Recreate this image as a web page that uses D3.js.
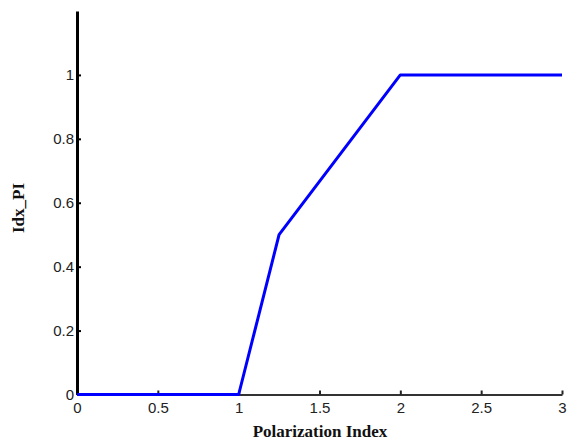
<!DOCTYPE html>
<html><head><meta charset="utf-8">
<script src="https://cdn.jsdelivr.net/npm/d3@7/dist/d3.min.js"></script>
<style>body{margin:0;background:#fff}</style>
</head><body>
<svg id="chart" width="569" height="441"></svg>
<script>
const xValues = [0, 1, 1.25, 2, 3];
const yValues = [0, 0, 0.5, 1, 1];
const xTicks = [0, 0.5, 1, 1.5, 2, 2.5, 3];
const yTicks = [0, 0.2, 0.4, 0.6, 0.8, 1];
const xLabel = "Polarization Index";
const yLabel = "Idx_PI";

const svg = d3.select("#chart");
const x = d3.scaleLinear().domain([0, 3]).range([77, 562]);
const y = d3.scaleLinear().domain([0, 1.2]).range([394.5, 11]);

// x axis
const gx = svg.append("g").attr("transform", `translate(0,${y(0)})`)
  .call(d3.axisBottom(x).tickValues(xTicks).tickFormat(d3.format("~g")).tickSizeInner(-4).tickSizeOuter(0).tickPadding(8));
gx.select(".domain").attr("stroke", "#333").attr("stroke-width", 2);
gx.selectAll(".tick line").attr("stroke", "#222").attr("stroke-width", 2);
gx.selectAll(".tick text").attr("font-family", "Liberation Sans, Arial, sans-serif").attr("font-size", 15).attr("fill", "#222");

// y axis
const gy = svg.append("g").attr("transform", `translate(${x(0)},0)`)
  .call(d3.axisLeft(y).tickValues(yTicks).tickFormat(d3.format("~g")).tickSizeInner(-4).tickSizeOuter(0).tickPadding(3));
gy.select(".domain").attr("stroke", "#000").attr("stroke-width", 3);
gy.selectAll(".tick line").attr("stroke", "#000").attr("stroke-width", 2);
gy.selectAll(".tick text").attr("font-family", "Liberation Sans, Arial, sans-serif").attr("font-size", 15).attr("fill", "#222");

// line
const data = xValues.map((v, i) => [v, yValues[i]]);
svg.append("path").datum(data)
  .attr("fill", "none").attr("stroke", "#0000ff").attr("stroke-width", 3)
  .attr("stroke-linejoin", "round")
  .attr("d", d3.line().x(d => x(d[0])).y(d => y(d[1])));

// labels
svg.append("text").attr("x", 320).attr("y", 437).attr("text-anchor", "middle")
  .attr("font-family", "Liberation Serif, Times New Roman, serif").attr("font-weight", "bold")
  .attr("font-size", 17).attr("fill", "#111").text(xLabel);
svg.append("text").attr("transform", "translate(24,208) rotate(-90)").attr("text-anchor", "middle")
  .attr("font-family", "Liberation Serif, Times New Roman, serif").attr("font-weight", "bold")
  .attr("font-size", 17).attr("fill", "#111").text(yLabel);
</script>
</body></html>
